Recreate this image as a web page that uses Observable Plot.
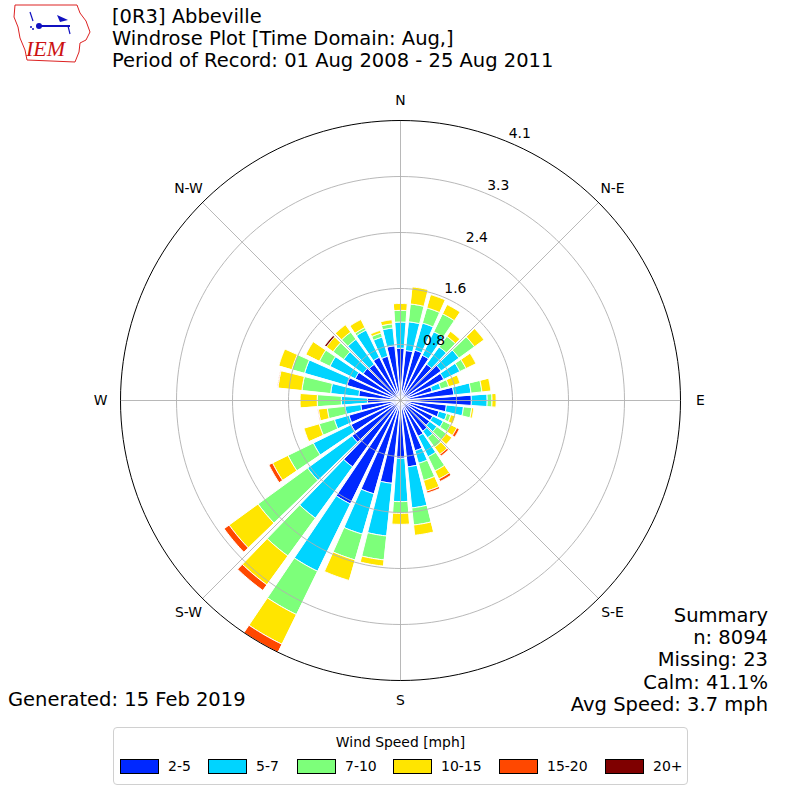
<!DOCTYPE html>
<html><head><meta charset="utf-8">
<script src="https://cdn.jsdelivr.net/npm/d3@7"></script>
<script src="https://cdn.jsdelivr.net/npm/@observablehq/plot@0.6"></script>
<style>
body{margin:0;background:#fff;font-family:"DejaVu Sans",sans-serif;color:#000;}
#wrap{position:relative;width:800px;height:800px;overflow:hidden;background:#fff;}
#chart{position:absolute;left:0;top:0;}
.abs{position:absolute;white-space:nowrap;}
</style></head>
<body><div id="wrap"><div id="chart"></div></div>
<script>
// ---- data ----
const directions = [0,10,20,30,40,50,60,70,80,90,100,110,120,130,140,150,160,170,180,190,200,210,220,230,240,250,260,270,280,290,300,310,320,330,340,350];
const speedBins = ["2-5","5-7","7-10","10-15","15-20","20+"];
const binColors = ["#0028ff","#00d4ff","#7dff7a","#ffe500","#ff4800","#7f0000"];
const s2_5   = [0.76,0.73,0.76,0.73,0.65,0.73,0.70,0.48,0.78,1.03,0.67,0.58,0.52,0.52,0.55,0.58,0.76,0.97,0.84,1.21,1.41,1.67,1.19,0.87,0.80,0.78,0.58,0.48,0.61,0.81,0.73,0.67,0.65,0.70,0.67,0.80];
const s5_7   = [0.38,0.42,0.41,0.38,0.31,0.32,0.26,0.13,0.25,0.23,0.25,0.12,0.17,0.13,0.12,0.33,0.19,0.60,0.63,0.77,0.61,1.09,0.92,0.80,0.61,0.22,0.23,0.38,0.41,0.64,0.41,0.35,0.45,0.44,0.29,0.26];
const s7_10  = [0.17,0.26,0.23,0.29,0.19,0.28,0.10,0.12,0.16,0.07,0.12,0.06,0.12,0.17,0.17,0.23,0.26,0.25,0.17,0.35,0.39,0.70,0.68,0.89,0.41,0.23,0.26,0.35,0.42,0.19,0.17,0.19,0.13,0.04,0.06,0.06];
const s10_15 = [0.10,0.25,0.20,0.15,0.09,0.17,0.16,0.17,0.13,0.06,0.03,0.07,0.10,0.10,0.13,0.13,0.16,0.15,0.16,0.09,0.31,0.48,0.52,0.52,0.25,0.23,0.13,0.25,0.35,0.20,0.22,0.12,0.13,0.13,0.04,0.06];
const s15_20 = [0,0,0,0,0,0,0,0,0,0,0,0,0.04,0,0.03,0.04,0.03,0,0,0,0,0.13,0.10,0.09,0.06,0,0.01,0,0.01,0,0,0,0,0,0,0];
const s20p   = [0,0,0,0,0,0,0,0,0,0,0,0,0,0,0,0,0,0,0,0,0,0,0,0,0,0,0,0,0,0,0,0.03,0,0,0,0];
const rMax = 4.07;
const ringTicks = [0.814,1.628,2.442,3.256,4.07];
const compassAngles = [0,45,90,135,180,225,270,315];
const compassLabels = ["N","N-E","E","S-E","S","S-W","W","N-W"];
const titleLines = ["[0R3] Abbeville","Windrose Plot [Time Domain: Aug,]","Period of Record: 01 Aug 2008 - 25 Aug 2011"];
const summaryLines = ["Summary","n: 8094","Missing: 23","Calm: 41.1%","Avg Speed: 3.7 mph"];
const generatedText = "Generated: 15 Feb 2019";
const legendTitle = "Wind Speed [mph]";

// ---- geometry built from the data ----
const series = [s2_5,s5_7,s7_10,s10_15,s15_20,s20p];
const rad = a => a*Math.PI/180;
const halfWidth = 4; // bar occupies 80% of the 10 degree sector
const wedgePts = [];
directions.forEach((d,i)=>{
  let c = 0;
  series.forEach((s,j)=>{
    const v = s[i];
    if (v > 0) {
      const r0 = c, r1 = c + v, id = i+"-"+j, n = 10;
      for (let k=0;k<=n;k++){ const a = rad(d-halfWidth + 2*halfWidth*k/n); wedgePts.push({id, bin:speedBins[j], x:r1*Math.sin(a), y:r1*Math.cos(a)}); }
      if (r0 === 0) wedgePts.push({id, bin:speedBins[j], x:0, y:0});
      else for (let k=n;k>=0;k--){ const a = rad(d-halfWidth + 2*halfWidth*k/n); wedgePts.push({id, bin:speedBins[j], x:r0*Math.sin(a), y:r0*Math.cos(a)}); }
    }
    c += v;
  });
});
const ringPts = [];
ringTicks.forEach((t,ri)=>{ for (let a=0;a<360;a+=2) ringPts.push({ring:ri, outer: ri===ringTicks.length-1, x:t*Math.sin(rad(a)), y:t*Math.cos(rad(a))}); });

const font = "DejaVu Sans";
const chart = Plot.plot({
  width: 800, height: 800, margin: 0,
  style: {fontFamily: font, background: "white", overflow: "visible"},
  x: {domain: [-rMax, rMax], range: [120, 680], axis: null},
  y: {domain: [-rMax, rMax], range: [680, 120], axis: null},
  color: {domain: speedBins, range: binColors},
  marks: [
    Plot.line(wedgePts, {x:"x", y:"y", z:"id", fill:"bin", stroke:"white", strokeWidth:1, curve:"linear-closed"}),
    Plot.line(ringPts.filter(p=>!p.outer), {x:"x", y:"y", z:"ring", stroke:"#b0b0b0", strokeWidth:0.9, curve:"linear-closed"}),
    Plot.link(compassAngles, {x1:()=>0, y1:()=>0, x2:a=>rMax*Math.sin(rad(a)), y2:a=>rMax*Math.cos(rad(a)), stroke:"#b0b0b0", strokeWidth:0.9}),
    Plot.line(ringPts.filter(p=>p.outer), {x:"x", y:"y", z:"ring", stroke:"black", strokeWidth:1, curve:"linear-closed"}),
    Plot.text(compassAngles, {x:a=>1.071*rMax*Math.sin(rad(a)), y:a=>1.071*rMax*Math.cos(rad(a)), text:(a,i)=>compassLabels[i], fontSize:13.9, fill:"black"}),
    Plot.text(ringTicks, {x:t=>t*Math.sin(rad(22.5)), y:t=>t*Math.cos(rad(22.5)), text:d3.format(".1f"), textAnchor:"start", dx:1, dy:-8, fontSize:13.9, fill:"black"})
  ]
});
const wrap = document.getElementById("wrap");
document.getElementById("chart").appendChild(chart);

function addDiv(html, css){ const d=document.createElement("div"); d.className="abs"; d.innerHTML=html; Object.assign(d.style, css); wrap.appendChild(d); return d; }
// titles
addDiv(titleLines.join("<br>"), {left:"112px", top:"6px", fontSize:"19.5px", lineHeight:"22px"});
// summary
addDiv(summaryLines.join("<br>"), {right:"32px", top:"605px", fontSize:"19.5px", lineHeight:"22.2px", textAlign:"right"});
addDiv(generatedText, {left:"8px", top:"689px", fontSize:"19.5px", lineHeight:"22px"});
// legend
const leg = addDiv("", {left:"113px", top:"727px", width:"573px", height:"56px", border:"1px solid #d0d0d0", borderRadius:"4px", background:"#fff"});
const lt = document.createElement("div"); lt.textContent = legendTitle;
Object.assign(lt.style,{position:"absolute", left:"0", width:"100%", textAlign:"center", top:"6px", fontSize:"13.9px"}); leg.appendChild(lt);
const swLeft = [6,94,183,279,385,491];
const lbLeft = [54,142,231,327,433,539];
speedBins.forEach((b,j)=>{
  const sw=document.createElement("div");
  Object.assign(sw.style,{position:"absolute", left:swLeft[j]+"px", top:"31px", width:"37px", height:"13px", background:binColors[j], border:"1px solid #000"});
  leg.appendChild(sw);
  const lb=document.createElement("div"); lb.textContent=b;
  Object.assign(lb.style,{position:"absolute", left:lbLeft[j]+"px", top:"29px", fontSize:"14px", lineHeight:"18px"});
  leg.appendChild(lb);
});
// logo
addDiv(`<svg width="95" height="65" viewBox="0 0 95 65">
<path d="M15,5 L77,5 L80,13 L86,21 L90,32 L86,40 L80,43 L79,52 L75,62 L27,60 L25,50 L20,38 L18,27 L14,17 Z" fill="none" stroke="#dd2222" stroke-width="1"/>
<line x1="38" y1="26" x2="70" y2="26" stroke="#1010c0" stroke-width="2"/>
<circle cx="39" cy="26" r="3" fill="#1010c0"/>
<path d="M57,15 L68,20 L60,22 Z" fill="#1010c0"/>
<line x1="30" y1="12" x2="33" y2="21" stroke="#1010c0" stroke-width="1.2"/>
<line x1="68" y1="26" x2="70" y2="34" stroke="#1010c0" stroke-width="1.2"/>
<circle cx="31" cy="27" r="1" fill="#1010c0"/><circle cx="33" cy="29" r="1" fill="#1010c0"/>
<text x="26" y="56" font-family="Liberation Serif, DejaVu Serif, serif" font-style="italic" font-size="22" fill="#cc1111">IEM</text>
</svg>`, {left:"0px", top:"0px"});
</script></body></html>
